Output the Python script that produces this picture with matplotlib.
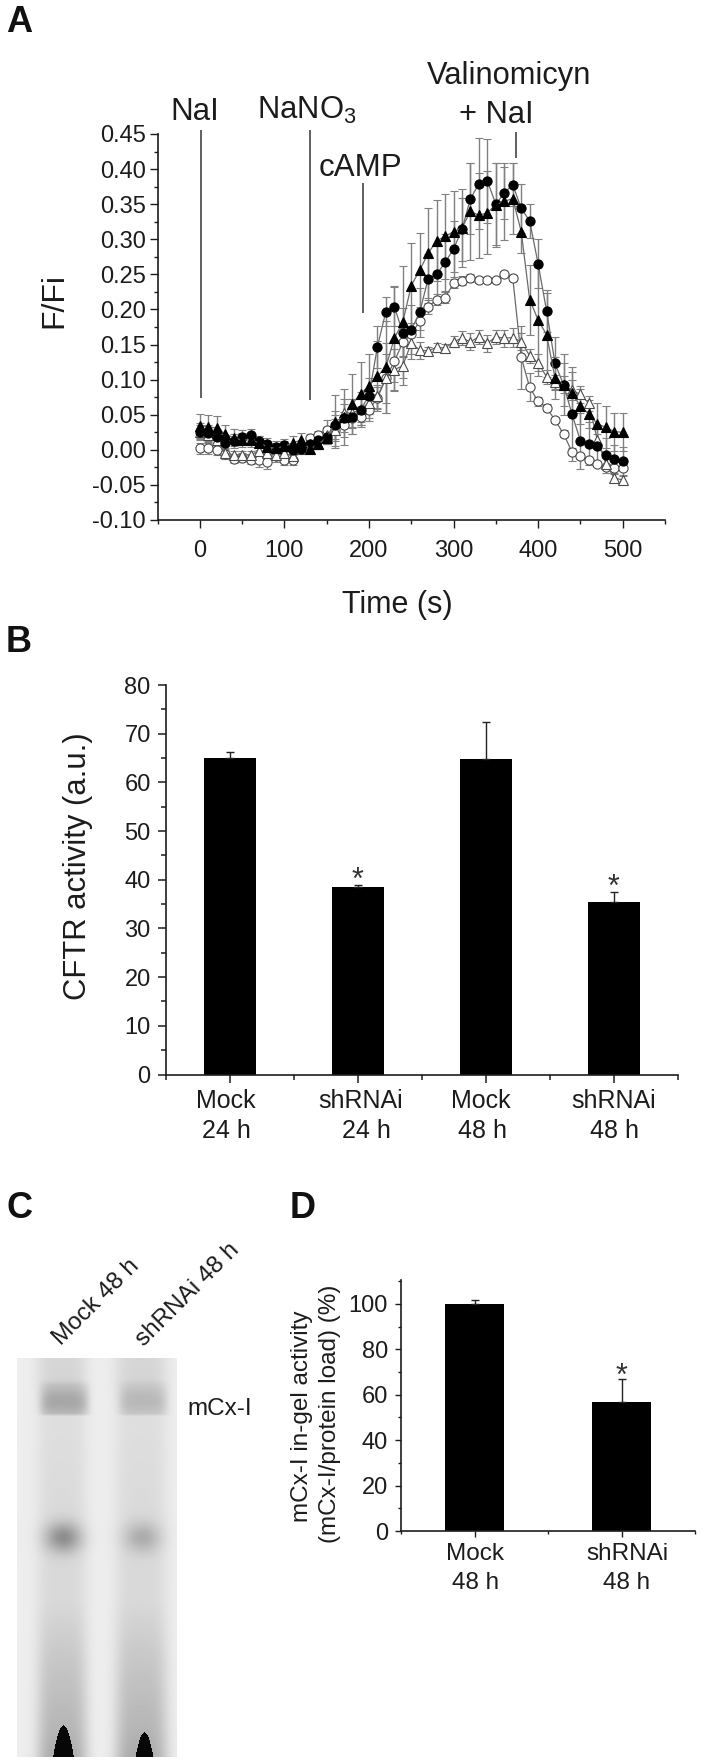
"""Four panel figure: iodide efflux traces, CFTR activity, in-gel assay and its quantification."""

import matplotlib

matplotlib.use("Agg")
import matplotlib.pyplot as plt
import numpy as np
from matplotlib.ticker import MultipleLocator

W, H = 710, 1764
FONT = "Liberation Sans"
INK = "#1c1c1c"

# panel A
time_s = list(range(0, 501, 10))
filled_circle = [
    .026, .024, .018, .010, .013, .018, .021, .012, .009, .004, .007, .000, .001, .008, .014, .018, .036,
    .045, .047, .057, .077, .147, .197, .204, .167, .171, .196, .244, .250, .267, .286, .314, .358, .379,
    .383, .350, .366, .378, .344, .326, .265, .198, .123, .093, .051, .013, .009, .005, -.008, -.013, -.016,
]
filled_triangle = [
    .034, .033, .031, .023, .017, .014, .014, .010, .004, .002, .005, .010, .014, .001, .008, .017, .040,
    .047, .065, .080, .091, .105, .118, .159, .182, .234, .256, .280, .298, .304, .311, .316, .340, .334,
    .338, .349, .354, .358, .311, .214, .185, .164, .102, .093, .081, .062, .051, .037, .032, .026, .025,
]
open_circle = [
    .002, .002, .000, -.006, -.013, -.011, -.014, -.014, -.017, -.009, -.014, -.014, .001, .017, .021, .028, .028,
    .036, .045, .047, .057, .074, .102, .126, .153, .165, .183, .204, .214, .217, .237, .241, .245, .242,
    .242, .242, .250, .245, .132, .089, .069, .060, .042, .023, -.003, -.009, -.014, -.020, -.025, -.026, -.026,
]
open_triangle = [
    .025, .021, .014, -.005, -.007, -.007, -.007, -.002, -.005, -.007, -.005, -.009, .001, .009, .009, .021, .028,
    .053, .052, .058, .067, .076, .102, .114, .120, .152, .142, .141, .146, .145, .154, .159, .154, .161,
    .152, .161, .159, .160, .154, .134, .124, .104, .097, .093, .085, .079, .066, .014, -.020, -.040, -.043,
]
filled_circle_err = [
    .012, .012, .012, .010, .010, .010, .008, .008, .008, .008, .008, .008, .006, .006, .008, .010, .020,
    .020, .025, .025, .025, .030, .021, .028, .035, .035, .035, .035, .040, .040, .040, .045, .050, .065,
    .060, .058, .037, .030, .035, .024, .035, .030, .038, .044, .067, .040, .030, .025, .025, .020, .020,
]
filled_triangle_err = [
    .017, .017, .017, .012, .012, .010, .010, .010, .008, .008, .008, .010, .010, .005, .005, .008, .038,
    .040, .043, .045, .045, .050, .066, .074, .080, .061, .053, .064, .058, .060, .058, .056, .069, .060,
    .059, .060, .055, .051, .030, .050, .080, .060, .030, .030, .030, .025, .020, .030, .030, .027, .027,
]
open_circle_err = [
    .008, .008, .008, .007, .006, .006, .006, .010, .011, .008, .008, .008, .004, .005, .006, .014, .022,
    .018, .014, .012, .016, .016, .035, .030, .020, .016, .012, .010, .008, .008, .006, .006, .006, .004,
    .003, .003, .003, .004, .045, .020, .006, .005, .004, .005, .005, .004, .003, .003, .003, .003, .003,
]
open_triangle_err = [
    .010, .010, .010, .008, .006, .006, .006, .006, .006, .006, .006, .006, .004, .006, .008, .012, .016,
    .020, .020, .018, .016, .016, .050, .030, .028, .022, .012, .006, .006, .006, .008, .010, .012, .010,
    .012, .010, .012, .014, .012, .010, .012, .010, .010, .012, .014, .012, .010, .008, .008, .006, .006,
]
event_times = [1, 130, 193, 374]
event_low = [.074, .071, .195, .416]
event_high = [.456, .456, .380, .453]

# panel B
cftr_groups = ["Mock", "shRNAi", "Mock", "shRNAi"]
cftr_hours = ["24 h", "24 h", "48 h", "48 h"]
cftr_values = [65.0, 38.6, 64.8, 35.4]
cftr_err = [1.2, 0.4, 7.7, 2.0]

# panel D
gel_groups = ["Mock", "shRNAi"]
gel_hours = ["48 h", "48 h"]
gel_values = [100.0, 57.0]
gel_err = [1.9, 9.8]

# panel C, gel photograph: lane centre, lane half width, band darkness, mid spot darkness, end stain shape
lane_x = [62, 141]
lane_half = [25, 26]
band_dark = [.20, .13]
spot_dark = [.30, .18]
stain_x = [63, 144]
stain_half = [10.5, 9]
stain_top = [1725, 1732]
smear_y = [1358, 1380, 1420, 1480, 1600, 1660, 1700, 1730, 1757]
smear_dark = [.09, .10, .06, .07, .08, .15, .19, .22, .26]

plt.rcParams["font.family"] = [FONT, "DejaVu Sans"]
plt.rcParams["mathtext.fontset"] = "custom"
plt.rcParams["mathtext.rm"] = FONT
plt.rcParams["mathtext.default"] = "regular"

fig = plt.figure(figsize=(W / 100, H / 100), dpi=100)


def px_text(x, y, s, size=17, **kw):
    kw.setdefault("ha", "center")
    kw.setdefault("va", "center")
    kw.setdefault("color", INK)
    return fig.text(x / W, 1 - y / H, s, fontsize=size, **kw)


def px_axes(left, right, top, bottom):
    ax = fig.add_axes([left / W, 1 - bottom / H, (right - left) / W, (bottom - top) / H])
    ax.patch.set_alpha(0)
    for side in ("top", "right"):
        ax.spines[side].set_visible(False)
    for side in ("left", "bottom"):
        ax.spines[side].set_linewidth(1.2)
        ax.spines[side].set_color(INK)
    return ax


def star(x, y):
    px_text(x, y + 17, "*", size=22, va="baseline", color="#333333")


def bar_panel(ax, values, err, ticks_major, minor):
    positions = np.arange(1, len(values) + 1)
    ax.bar(positions, values, width=0.4, color="black")
    ax.errorbar(positions, values, yerr=[np.zeros(len(err)), err], fmt="none", ecolor="#222222", elinewidth=1.0,
                capsize=2.6, capthick=1.0)
    ax.set_xlim(0.5, len(values) + 0.5)
    ax.set_yticks(ticks_major)
    ax.yaxis.set_minor_locator(MultipleLocator(minor))
    ax.set_xticks(positions)
    ax.set_xticks(np.arange(0.5, len(values) + 1), minor=True)
    ax.set_xticklabels([])


# ---- A ----
ax_a = px_axes(157.5, 665, 134, 520)
traces = [
    (open_circle, open_circle_err, "o", "white", 6.6),
    (open_triangle, open_triangle_err, "^", "white", 7.2),
    (filled_circle, filled_circle_err, "o", "black", 6.6),
    (filled_triangle, filled_triangle_err, "^", "black", 7.2),
]
for values, err, marker, face, size in traces:
    ax_a.errorbar(time_s, values, yerr=err, fmt="none", ecolor="#808080", elinewidth=1.0, capsize=2.8, capthick=0.8)
for values, err, marker, face, size in traces:
    ax_a.plot(time_s, values, color="#6a6a6a", linewidth=0.9, marker=marker, markersize=size, markerfacecolor=face,
              markeredgecolor="#4a4a4a" if face == "white" else "black", markeredgewidth=0.8, clip_on=False)
ax_a.vlines(event_times, event_low, event_high, color="#444444", linewidth=1.2, clip_on=False)
ax_a.set_xlim(-50, 550)
ax_a.set_ylim(-0.10, 0.45)
ax_a.set_xticks([0, 100, 200, 300, 400, 500])
ax_a.xaxis.set_minor_locator(MultipleLocator(50))
ax_a.set_yticks(np.arange(-0.10, 0.451, 0.05))
ax_a.set_yticklabels(["-0.10", "-0.05", "0.00", "0.05", "0.10", "0.15", "0.20", "0.25", "0.30", "0.35", "0.40", "0.45"])
ax_a.yaxis.set_minor_locator(MultipleLocator(0.025))
ax_a.tick_params(which="major", length=5.5, width=1.0, labelsize=17, colors=INK, pad=3)
ax_a.tick_params(which="minor", length=3, width=1.0, color=INK)
ax_a.tick_params(axis="x", which="major", pad=9)

px_text(195, 112, "NaI", 22.5)
px_text(307, 110, "NaNO$_3$", 22.3)
px_text(360, 168, "cAMP", 22.5)
px_text(509, 76, "Valinomicyn", 22.2)
px_text(496, 115, "+ NaI", 22.2)
px_text(54, 301, "F/Fi", 23, rotation=90)
px_text(397, 605, "Time (s)", 22)

# ---- B ----
ax_b = px_axes(166, 678, 685, 1074.5)
bar_panel(ax_b, cftr_values, cftr_err, np.arange(0, 81, 10), 5)
ax_b.set_ylim(0, 80)
ax_b.tick_params(which="major", length=6, width=1.1, labelsize=17, colors=INK, pad=5)
ax_b.tick_params(which="minor", length=3.5, width=1.1, color=INK)
px_text(78, 866, "CFTR activity (a.u.)", 22.3, rotation=90)
for x, s in zip([226, 361, 481, 614], cftr_groups):
    px_text(x, 1101, s, 18)
for x, s in zip([226, 366, 483, 614], cftr_hours):
    px_text(x, 1131, s, 18)
star(357, 872)
star(613.5, 879)

# ---- C ----
ax_c = fig.add_axes([17 / W, 1 - 1757 / H, 160 / W, 399 / H])
gx, gy = np.meshgrid(np.arange(17, 177), np.arange(1358, 1757))
gel = np.full(gx.shape, 0.93, dtype=float)
for i in range(2):
    dx = (gx - lane_x[i]) / lane_half[i]
    edge = np.exp(-np.abs(dx) ** 4)
    gel -= np.interp(gy, smear_y, smear_dark) * edge
    band = np.clip((gy - 1378) / 6, 0, 1) * np.clip((1416 - gy) / 3, 0, 1)
    gel -= band_dark[i] * band * np.exp(-(((gy - 1402) / 18.0) ** 2)) * np.exp(-np.abs((gx - lane_x[i] - 2) / 24.0) ** 6)
    gel -= spot_dark[i] * np.exp(-(((gx - lane_x[i] - 1) / 18.0) ** 2) - ((gy - 1537) / 15.0) ** 2)
    tear = (gy - stain_top[i]) / (1757.0 - stain_top[i])
    inside = (gy >= stain_top[i]) & (np.abs(gx - stain_x[i]) <= stain_half[i] * np.sqrt(np.clip(tear, 0, 1)))
    gel[inside] = 0.03
gel = np.clip(gel, 0, 1)
ax_c.imshow(gel, cmap="gray", vmin=0, vmax=1, aspect="auto", interpolation="bilinear")
ax_c.axis("off")
px_text(96, 1302, "Mock 48 h", 17.5, rotation=45)
px_text(188, 1295, "shRNAi 48 h", 17.5, rotation=45)
px_text(220, 1409, "mCx-I", 17.5)

# ---- D ----
ax_d = px_axes(401, 695, 1280, 1531)
bar_panel(ax_d, gel_values, gel_err, np.arange(0, 101, 20), 10)
ax_d.set_ylim(0, 110.5)
ax_d.tick_params(which="major", length=4, width=1.0, labelsize=17, colors=INK, pad=5.5)
ax_d.tick_params(which="minor", length=2.5, width=1.0, color=INK)
px_text(302, 1416, "mCx-I in-gel activity", 17.5, rotation=90)
px_text(330, 1414, "(mCx-I/protein load) (%)", 17.5, rotation=90)
for x, s in zip([475, 627], gel_groups):
    px_text(x, 1554, s, 17.5)
for x, s in zip([476, 627], gel_hours):
    px_text(x, 1583, s, 17.5)
star(621, 1368)

# panel letters
for x, y, s in [(19, 22, "A"), (19, 643, "B"), (19, 1209, "C"), (303, 1209, "D")]:
    px_text(x, y, s, 26, fontweight="bold", color="#111111")

fig.savefig("out.png", dpi=100, facecolor="white")
